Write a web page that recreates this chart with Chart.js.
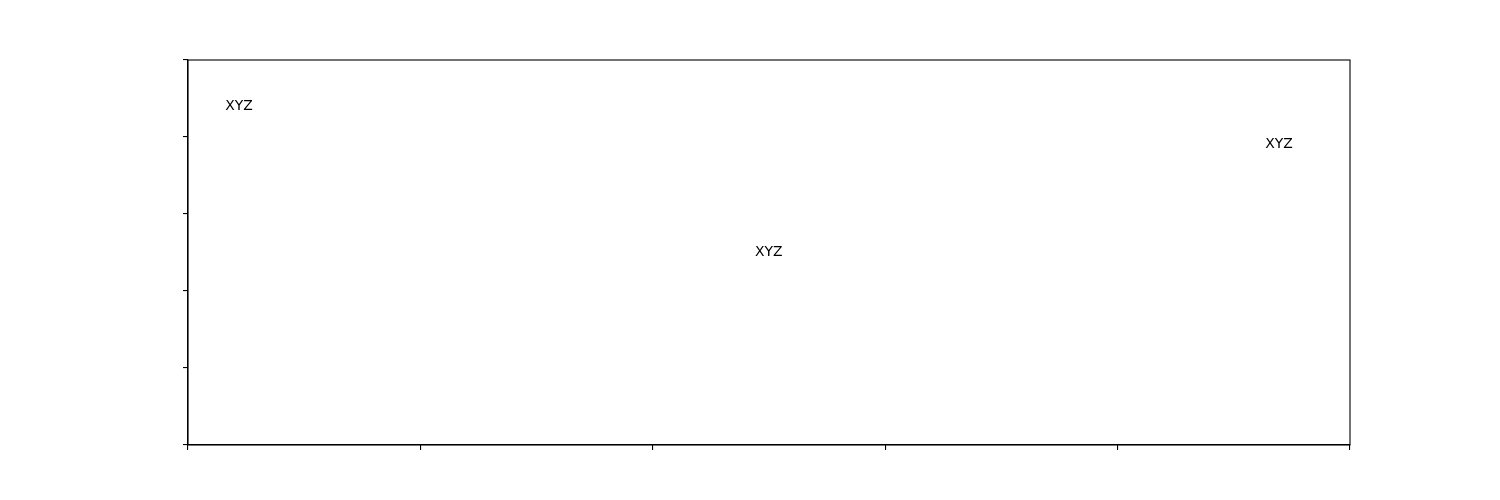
<!DOCTYPE html>
<html>
<head>
<meta charset="utf-8">
<script src="https://cdn.jsdelivr.net/npm/chart.js@4/dist/chart.umd.min.js"></script>
<style>
  html, body { margin: 0; padding: 0; background: #fff; }
  #wrap { width: 1500px; height: 500px; position: relative; }
</style>
</head>
<body>
<div id="wrap"><canvas id="c" width="1500" height="500"></canvas></div>
<script>
// Text annotations (data coordinates, left / baseline anchored)
const labels = ["XYZ", "XYZ", "XYZ"];
const xValues = [0.032, 0.488, 0.927];
const yValues = [0.871, 0.491, 0.771];
const xTicks = [0, 0.2, 0.4, 0.6, 0.8, 1.0];
const yTicks = [0, 0.2, 0.4, 0.6, 0.8, 1.0];

const points = xValues.map((x, i) => ({ x: x, y: yValues[i], label: labels[i] }));

const textPlugin = {
  id: 'textPlugin',
  afterDatasetsDraw(chart) {
    const ctx = chart.ctx;
    const meta = chart.getDatasetMeta(0);
    ctx.save();
    ctx.fillStyle = '#000';
    ctx.font = '13.9px "DejaVu Sans"';
    ctx.textAlign = 'left';
    ctx.textBaseline = 'alphabetic';
    meta.data.forEach((el, i) => {
      ctx.fillText(points[i].label, el.x, el.y);
    });
    ctx.restore();
  }
};

const framePlugin = {
  id: 'framePlugin',
  afterDraw(chart) {
    const a = chart.chartArea;
    const ctx = chart.ctx;
    ctx.save();
    ctx.strokeStyle = '#000';
    ctx.lineWidth = 1.1;
    ctx.strokeRect(a.left, a.top, a.right - a.left, a.bottom - a.top);
    ctx.restore();
  }
};

new Chart(document.getElementById('c'), {
  type: 'scatter',
  data: {
    datasets: [{
      data: points,
      pointRadius: 0,
      pointHoverRadius: 0,
      showLine: false
    }]
  },
  options: {
    responsive: false,
    animation: false,
    events: [],
    layout: { padding: { left: 178, right: 150, top: 60, bottom: 45 } },
    plugins: { legend: { display: false }, tooltip: { enabled: false } },
    scales: {
      x: {
        type: 'linear',
        min: 0, max: 1,
        afterBuildTicks(scale) { scale.ticks = xTicks.map(v => ({ value: v })); },
        afterFit(scale) { scale.height = 10; },
        ticks: { display: false },
        grid: { drawOnChartArea: false, drawTicks: true, tickLength: 5, color: '#000', lineWidth: 1.1 },
        border: { display: true, color: '#000', width: 1.1 }
      },
      y: {
        type: 'linear',
        min: 0, max: 1,
        afterBuildTicks(scale) { scale.ticks = yTicks.map(v => ({ value: v })); },
        afterFit(scale) { scale.width = 10; },
        ticks: { display: false },
        grid: { drawOnChartArea: false, drawTicks: true, tickLength: 5, color: '#000', lineWidth: 1.1 },
        border: { display: true, color: '#000', width: 1.1 }
      }
    }
  },
  plugins: [textPlugin, framePlugin]
});
</script>
</body>
</html>
